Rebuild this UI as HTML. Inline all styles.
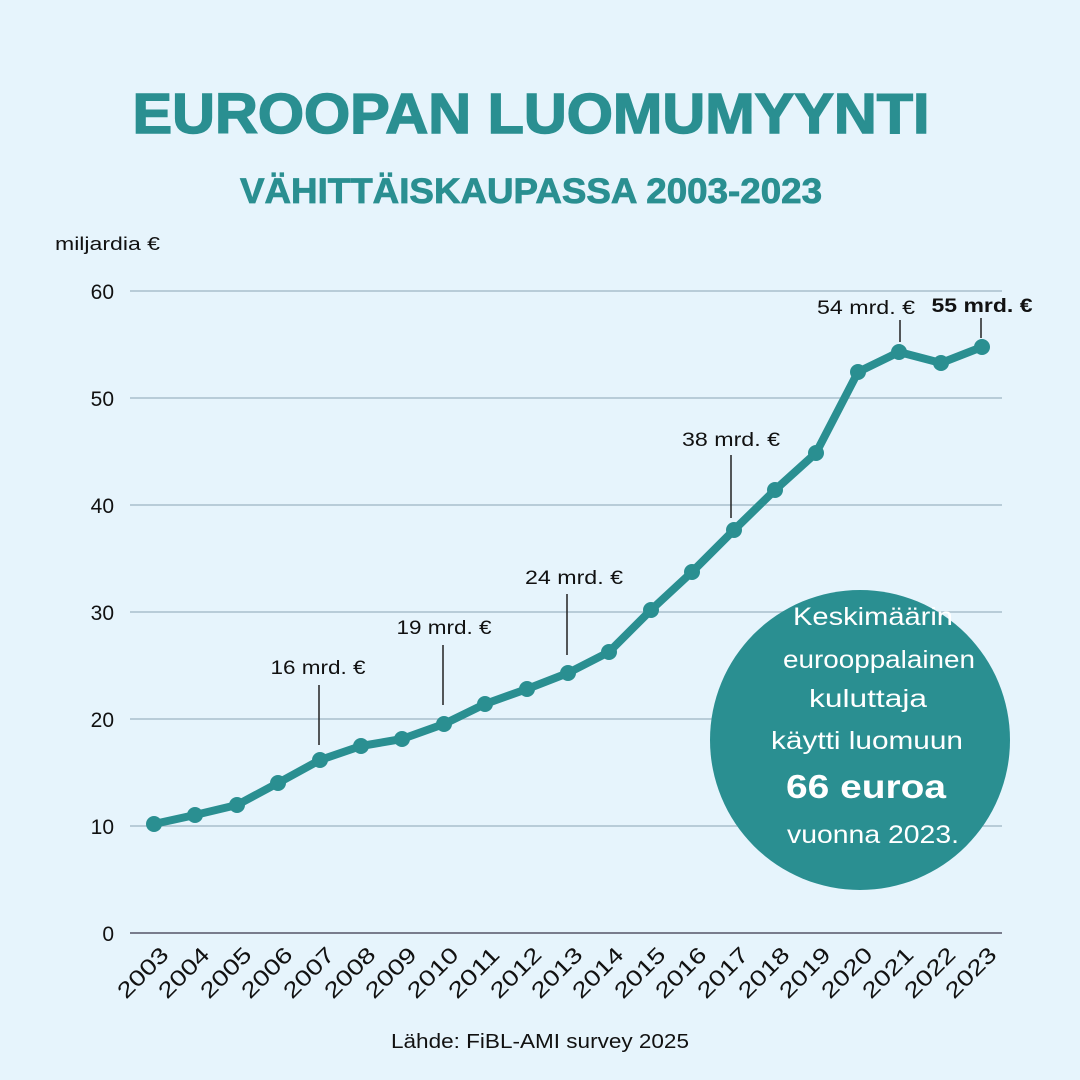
<!DOCTYPE html>
<html><head><meta charset="utf-8"><style>
html,body{margin:0;padding:0;background:#e6f4fc;}
svg{display:block;font-family:"Liberation Sans",sans-serif;}
</style></head><body>
<svg width="1080" height="1080" viewBox="0 0 1080 1080">
<rect width="1080" height="1080" fill="#e6f4fc"/>
<text x="531" y="133" text-anchor="middle" font-size="57" font-weight="bold" fill="#2a8f91" stroke="#2a8f91" stroke-width="1.5" textLength="797" lengthAdjust="spacingAndGlyphs">EUROOPAN LUOMUMYYNTI</text>
<text x="531" y="203" text-anchor="middle" font-size="35" font-weight="bold" fill="#2a8f91" stroke="#2a8f91" stroke-width="0.8" textLength="582" lengthAdjust="spacingAndGlyphs">VÄHITTÄISKAUPASSA 2003-2023</text>
<text x="55" y="250" font-size="18" fill="#111" textLength="105" lengthAdjust="spacingAndGlyphs">miljardia €</text>
<g stroke="#a9bfcb" stroke-width="1.5">
<line x1="130" y1="291" x2="1002" y2="291"/><line x1="130" y1="398" x2="1002" y2="398"/>
<line x1="130" y1="505" x2="1002" y2="505"/><line x1="130" y1="612" x2="1002" y2="612"/>
<line x1="130" y1="719" x2="1002" y2="719"/><line x1="130" y1="826" x2="1002" y2="826"/>
</g>
<line x1="130" y1="933" x2="1002" y2="933" stroke="#556" stroke-width="1.5"/>
<g font-size="21" fill="#111" text-anchor="end">
<text x="114" y="299">60</text><text x="114" y="406">50</text><text x="114" y="513">40</text>
<text x="114" y="620">30</text><text x="114" y="727">20</text><text x="114" y="834">10</text><text x="114" y="941">0</text>
</g>
<g font-size="22" fill="#111" text-anchor="end">
<text transform="translate(170,956) rotate(-45)" textLength="62" lengthAdjust="spacingAndGlyphs">2003</text>
<text transform="translate(211,956) rotate(-45)" textLength="62" lengthAdjust="spacingAndGlyphs">2004</text>
<text transform="translate(253,956) rotate(-45)" textLength="62" lengthAdjust="spacingAndGlyphs">2005</text>
<text transform="translate(294,956) rotate(-45)" textLength="62" lengthAdjust="spacingAndGlyphs">2006</text>
<text transform="translate(336,956) rotate(-45)" textLength="62" lengthAdjust="spacingAndGlyphs">2007</text>
<text transform="translate(377,956) rotate(-45)" textLength="62" lengthAdjust="spacingAndGlyphs">2008</text>
<text transform="translate(418,956) rotate(-45)" textLength="62" lengthAdjust="spacingAndGlyphs">2009</text>
<text transform="translate(460,956) rotate(-45)" textLength="62" lengthAdjust="spacingAndGlyphs">2010</text>
<text transform="translate(501,956) rotate(-45)" textLength="62" lengthAdjust="spacingAndGlyphs">2011</text>
<text transform="translate(543,956) rotate(-45)" textLength="62" lengthAdjust="spacingAndGlyphs">2012</text>
<text transform="translate(584,956) rotate(-45)" textLength="62" lengthAdjust="spacingAndGlyphs">2013</text>
<text transform="translate(625,956) rotate(-45)" textLength="62" lengthAdjust="spacingAndGlyphs">2014</text>
<text transform="translate(667,956) rotate(-45)" textLength="62" lengthAdjust="spacingAndGlyphs">2015</text>
<text transform="translate(708,956) rotate(-45)" textLength="62" lengthAdjust="spacingAndGlyphs">2016</text>
<text transform="translate(750,956) rotate(-45)" textLength="62" lengthAdjust="spacingAndGlyphs">2017</text>
<text transform="translate(791,956) rotate(-45)" textLength="62" lengthAdjust="spacingAndGlyphs">2018</text>
<text transform="translate(832,956) rotate(-45)" textLength="62" lengthAdjust="spacingAndGlyphs">2019</text>
<text transform="translate(874,956) rotate(-45)" textLength="62" lengthAdjust="spacingAndGlyphs">2020</text>
<text transform="translate(915,956) rotate(-45)" textLength="62" lengthAdjust="spacingAndGlyphs">2021</text>
<text transform="translate(957,956) rotate(-45)" textLength="62" lengthAdjust="spacingAndGlyphs">2022</text>
<text transform="translate(998,956) rotate(-45)" textLength="62" lengthAdjust="spacingAndGlyphs">2023</text>
</g>
<g stroke="#222" stroke-width="1.5">
<line x1="319" y1="685" x2="319" y2="745"/><line x1="443" y1="645" x2="443" y2="705"/>
<line x1="567" y1="594" x2="567" y2="655"/><line x1="731" y1="455" x2="731" y2="518"/>
<line x1="900" y1="320" x2="900" y2="342"/><line x1="981" y1="318" x2="981" y2="338"/>
</g>
<g font-size="19" fill="#111" text-anchor="middle">
<text x="318" y="674" textLength="95" lengthAdjust="spacingAndGlyphs">16 mrd. €</text>
<text x="444" y="634" textLength="95" lengthAdjust="spacingAndGlyphs">19 mrd. €</text>
<text x="574" y="584" textLength="98" lengthAdjust="spacingAndGlyphs">24 mrd. €</text>
<text x="731" y="446" textLength="98" lengthAdjust="spacingAndGlyphs">38 mrd. €</text>
<text x="866" y="314" textLength="98" lengthAdjust="spacingAndGlyphs">54 mrd. €</text>
<text x="982" y="312" font-weight="bold" textLength="101" lengthAdjust="spacingAndGlyphs">55 mrd. €</text>
</g>
<polyline fill="none" stroke="#2a8f91" stroke-width="8" stroke-linejoin="round" points="154,824 195,815 237,805 278,783 320,760 361,746 402,739 444,724 485,704 527,689 568,673 609,652 651,610 692,572 734,530 775,490 816,453 858,372 899,352 941,363 982,347"/>
<g fill="#2a8f91">
<circle cx="154" cy="824" r="8"/><circle cx="195" cy="815" r="8"/><circle cx="237" cy="805" r="8"/>
<circle cx="278" cy="783" r="8"/><circle cx="320" cy="760" r="8"/><circle cx="361" cy="746" r="8"/>
<circle cx="402" cy="739" r="8"/><circle cx="444" cy="724" r="8"/><circle cx="485" cy="704" r="8"/>
<circle cx="527" cy="689" r="8"/><circle cx="568" cy="673" r="8"/><circle cx="609" cy="652" r="8"/>
<circle cx="651" cy="610" r="8"/><circle cx="692" cy="572" r="8"/><circle cx="734" cy="530" r="8"/>
<circle cx="775" cy="490" r="8"/><circle cx="816" cy="453" r="8"/><circle cx="858" cy="372" r="8"/>
<circle cx="899" cy="352" r="8"/><circle cx="941" cy="363" r="8"/><circle cx="982" cy="347" r="8"/>
</g>
<circle cx="860" cy="740" r="150" fill="#2a8f91"/>
<g fill="#fff" text-anchor="middle" font-size="25">
<text x="873" y="625" textLength="160" lengthAdjust="spacingAndGlyphs">Keskimäärin</text>
<text x="879" y="668" textLength="192" lengthAdjust="spacingAndGlyphs">eurooppalainen</text>
<text x="868" y="707" textLength="118" lengthAdjust="spacingAndGlyphs">kuluttaja</text>
<text x="867" y="749" textLength="192" lengthAdjust="spacingAndGlyphs">käytti luomuun</text>
<text x="866" y="798" font-size="33" font-weight="bold" textLength="160" lengthAdjust="spacingAndGlyphs">66 euroa</text>
<text x="873" y="843" textLength="172" lengthAdjust="spacingAndGlyphs">vuonna 2023.</text>
</g>
<text x="540" y="1048" text-anchor="middle" font-size="20" fill="#111" textLength="298" lengthAdjust="spacingAndGlyphs">Lähde: FiBL-AMI survey 2025</text>
</svg>
</body></html>
